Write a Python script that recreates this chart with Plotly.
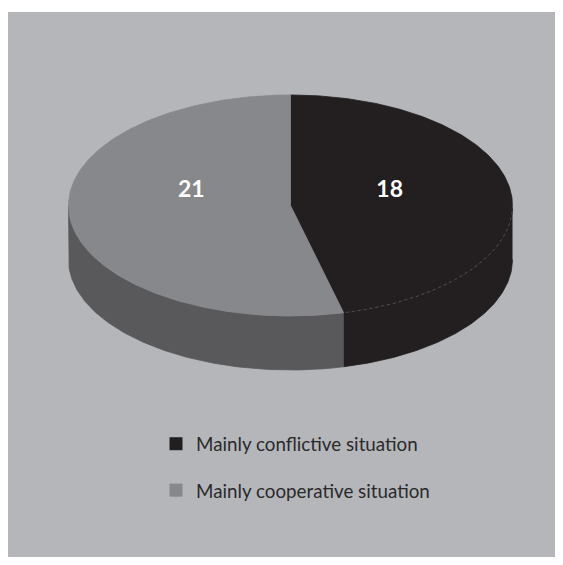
import numpy as np
import plotly.graph_objects as go

# ---- data ----
categories = ["Mainly conflictive situation", "Mainly cooperative situation"]
values = [18, 21]
top_colors = ["#231f20", "#87888b"]
side_colors = ["#231f20", "#59595c"]

# ---- geometry (page pixel space) ----
W, H = 563, 565
BODY = 8                      # default page body margin
PANEL_L, PANEL_T = 8, 12
PANEL_R, PANEL_B = W - BODY, H - BODY
cx, cy, rx, ry, depth = 290.5, 205.5, 222.0, 110.5, 54.0
label_r = 0.45
label_y = 191
bg = "#b5b6ba"


def ell(theta_deg, dy=0.0):
    t = np.radians(theta_deg)
    return cx + rx * np.sin(t), cy - ry * np.cos(t) + dy


total = float(sum(values))
fig = go.Figure()

start = 0.0
bounds = []
for v in values:
    a0, a1 = start, start + 360.0 * v / total
    bounds.append((a0, a1))
    start = a1

# side walls (front half only: 90..270 deg clockwise from 12 o'clock)
for (a0, a1), col in zip(bounds, side_colors):
    s0, s1 = max(a0, 90.0), min(a1, 270.0)
    if s1 > s0:
        th = np.linspace(s0, s1, 120)
        xt, yt = ell(th)
        xb, yb = ell(th[::-1], depth)
        fig.add_trace(go.Scatter(
            x=np.concatenate([xt, xb]), y=np.concatenate([yt, yb]),
            fill="toself", fillcolor=col, mode="lines",
            line=dict(color=col, width=0.8), hoverinfo="skip", showlegend=False))

# top faces
for (a0, a1), col, cat, v in zip(bounds, top_colors, categories, values):
    th = np.linspace(a0, a1, 240)
    xa, ya = ell(th)
    fig.add_trace(go.Scatter(
        x=np.concatenate([[cx], xa, [cx]]), y=np.concatenate([[cy], ya, [cy]]),
        fill="toself", fillcolor=col, mode="lines",
        line=dict(color=col, width=0.8), name=cat, text=[f"{cat}: {v}"],
        hoverinfo="text", showlegend=False))

# subtle rim line on dark slice
a0, a1 = bounds[0]
th = np.linspace(max(a0, 90.0), min(a1, 270.0), 80)
xr, yr = ell(th)
fig.add_trace(go.Scatter(x=xr, y=yr, mode="lines",
                         line=dict(color="#5a5a5a", width=0.8, dash="dot"),
                         hoverinfo="skip", showlegend=False))

# value labels
lx = []
for (a0, a1) in bounds:
    m = (a0 + a1) / 2
    x, _ = ell(m)
    lx.append(cx + (x - cx) * label_r)
fig.add_trace(go.Scatter(
    x=lx, y=[label_y] * len(values), mode="text", text=[str(v) for v in values],
    textfont=dict(family="Lato", size=23, color="white", weight="bold"),
    hoverinfo="skip", showlegend=False))

# legend entries
for cat, col in zip(categories, top_colors):
    fig.add_trace(go.Scatter(
        x=[None], y=[None], mode="markers", name=cat, legendgroup=cat,
        marker=dict(symbol="square", size=13, color=col)))

fw, fh = W - 2 * BODY, H - 2 * BODY
fig.update_layout(
    width=fw, height=fh,
    margin=dict(l=PANEL_L - BODY, r=0, t=PANEL_T - BODY, b=0, pad=0),
    paper_bgcolor="white", plot_bgcolor=bg,
    xaxis=dict(range=[PANEL_L, PANEL_R], visible=False, fixedrange=True),
    yaxis=dict(range=[PANEL_B, PANEL_T], visible=False, fixedrange=True),
    showlegend=True,
    legend=dict(
        x=(156 - PANEL_L) / (PANEL_R - PANEL_L),
        y=1 - (425 - PANEL_T) / (PANEL_B - PANEL_T),
        xanchor="left", yanchor="top",
        bgcolor="rgba(0,0,0,0)", tracegroupgap=19,
        font=dict(family="Lato", size=18.8, color="#2a2a2a"),
        itemclick=False, itemdoubleclick=False),
)

fig.write_html("out.html")
